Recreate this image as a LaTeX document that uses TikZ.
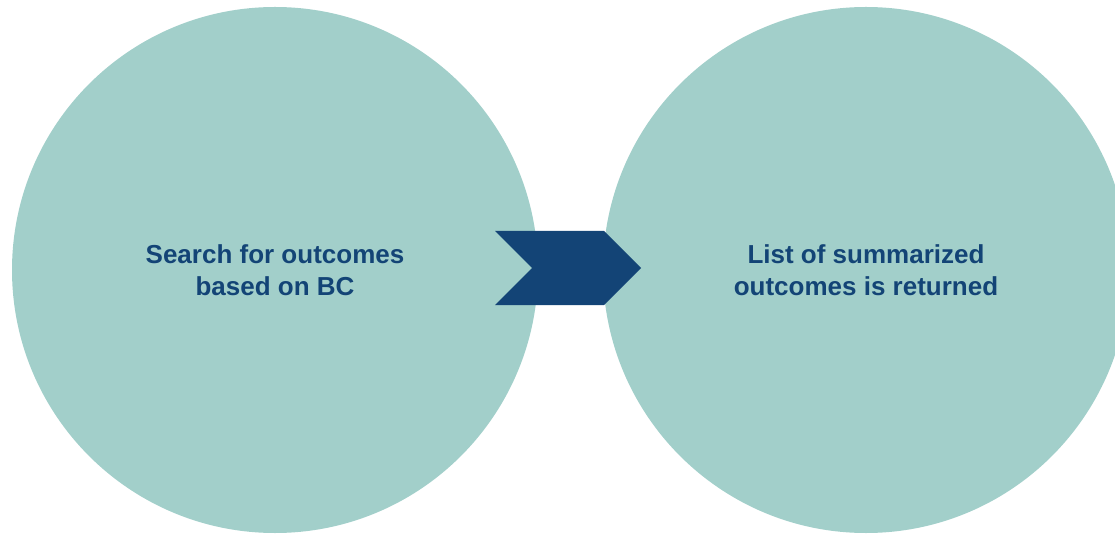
\documentclass[tikz,border=0pt]{standalone}
\usepackage{fontspec}
\setmainfont{Liberation Sans}
\definecolor{stagefill}{HTML}{A2CFCA}
\definecolor{navy}{HTML}{134476}
\tikzset{
  stage/.style={circle, fill=stagefill, minimum size=526pt, inner sep=0pt,
    align=center, text=navy, font=\fontsize{26}{32}\selectfont\bfseries},
}
\begin{document}
\begin{tikzpicture}[x=1pt, y=-1pt]
	% frame of the page
	\useasboundingbox (0,0) rectangle (1115,534);
	\clip (0,0) rectangle (1115,534);
	
	% 1. the two stages
	\node[stage] (search) at (275,270) {Search for outcomes\\based on BC};
	\node[stage] (result) at (866,270) {List of summarized\\outcomes is returned};
	
	% 2. chevron between them
	\coordinate (tail) at (495,231);
	\fill[navy] (tail) -- ++(109,0) -- ++(37,37) -- ++(-37,37) -- ++(-109,0) -- ++(37,-37) -- cycle;
\end{tikzpicture}
\end{document}
